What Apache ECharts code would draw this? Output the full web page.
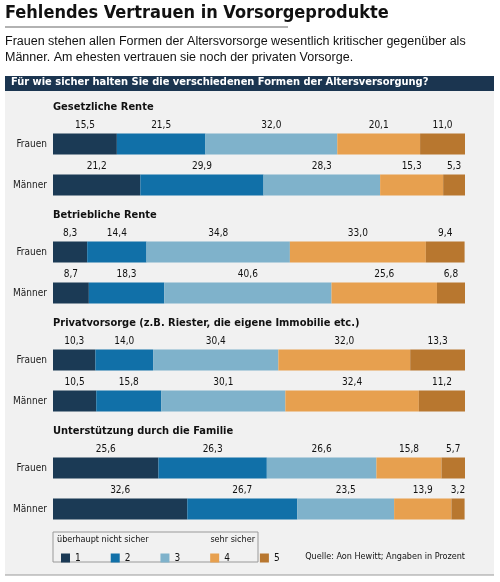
<!DOCTYPE html>
<html>
<head>
<meta charset="utf-8">
<script src="https://cdn.jsdelivr.net/npm/echarts@6/dist/echarts.min.js"></script>
<style>
  html, body { margin: 0; padding: 0; background: #fff; }
  #chart { width: 500px; height: 582px; }
</style>
</head>
<body>
<div id="chart"></div>
<script>
// data
const groups = ['Gesetzliche Rente', 'Betriebliche Rente', 'Privatvorsorge (z.B. Riester, die eigene Immobilie etc.)', 'Unterstützung durch die Familie'];
const rows = ['Frauen', 'Männer'];
const levels = ['1', '2', '3', '4', '5'];
const frauen = [
    [15.5, 21.5, 32.0, 20.1, 11.0],
    [8.3, 14.4, 34.8, 33.0, 9.4],
    [10.3, 14.0, 30.4, 32.0, 13.3],
    [25.6, 26.3, 26.6, 15.8, 5.7]
];
const maenner = [
    [21.2, 29.9, 28.3, 15.3, 5.3],
    [8.7, 18.3, 40.6, 25.6, 6.8],
    [10.5, 15.8, 30.1, 32.4, 11.2],
    [32.6, 26.7, 23.5, 13.9, 3.2]
];
const colors = ['#1b3a55', '#1170a8', '#7fb2cb', '#e7a04f', '#b8772f'];

const cond = '"DejaVu Sans Condensed", "Liberation Sans Narrow", sans-serif';
const fmt = v => v.toFixed(1).replace('.', ',');

const grids = [], xAxes = [], yAxes = [], series = [], graphics = [];
groups.forEach((g, gi) => {
    const top = 123.5 + gi * 108;
    grids.push({ left: 53, width: 412, top: top, height: 82 });
    xAxes.push({ gridIndex: gi, type: 'value', min: 0, max: 100, show: false });
    yAxes.push({
        gridIndex: gi, type: 'category', data: rows, inverse: true,
        axisLine: { show: false }, axisTick: { show: false },
        axisLabel: { color: '#222', fontFamily: cond, fontSize: 10, margin: 6 }
    });
    graphics.push({
        type: 'text', left: 53, top: top - 22,
        style: { text: g, fill: '#111', font: 'bold 11px ' + cond }
    });
    levels.forEach((lv, li) => {
        series.push({
            name: lv, type: 'bar', stack: 'g' + gi,
            xAxisIndex: gi, yAxisIndex: gi,
            barWidth: 21,
            itemStyle: { color: colors[li] },
            label: {
                show: true, position: 'top', distance: 3,
                formatter: p => fmt(p.value),
                color: '#111', fontFamily: cond, fontSize: 10
            },
            data: [frauen[gi][li], maenner[gi][li]]
        });
    });
});

const chart = echarts.init(document.getElementById('chart'));
chart.setOption({
    animation: false,
    color: colors,
    grid: grids, xAxis: xAxes, yAxis: yAxes, series: series,
    legend: {
        data: levels, left: 56, top: 548, icon: 'rect',
        itemWidth: 9, itemHeight: 9, itemGap: 30,
        textStyle: { fontFamily: cond, fontSize: 10, color: '#111' },
        selectedMode: false
    },
    graphic: [
        { type: 'rect', z: -10, shape: { x: 5, y: 90, width: 489, height: 485 }, style: { fill: '#f1f1f1' } },
        { type: 'line', z: -10, shape: { x1: 5, y1: 575, x2: 494, y2: 575 }, style: { stroke: '#999', lineWidth: 1 } },
        { type: 'rect', shape: { x: 5, y: 76, width: 489, height: 15 }, style: { fill: '#1b3550' } },
        { type: 'text', left: 11, top: 77, style: { text: 'Für wie sicher halten Sie die verschiedenen Formen der Altersversorgung?', fill: '#fff', font: 'bold 11px ' + cond } },
        { type: 'text', left: 5, top: 4, style: { text: 'Fehlendes Vertrauen in Vorsorgeprodukte', fill: '#111', font: 'bold 18px ' + cond } },
        { type: 'line', shape: { x1: 5, y1: 27, x2: 288, y2: 27 }, style: { stroke: '#999', lineWidth: 1.5 } },
        { type: 'text', left: 5, top: 34, style: { text: 'Frauen stehen allen Formen der Altersvorsorge wesentlich kritischer gegenüber als\nMänner. Am ehesten vertrauen sie noch der privaten Vorsorge.', fill: '#111', font: '12.5px "Liberation Sans", Arial, sans-serif', lineHeight: 16 } },
        { type: 'rect', shape: { x: 53, y: 532, width: 205, height: 30 }, style: { fill: 'none', stroke: '#999', lineWidth: 1 } },
        { type: 'text', left: 57, top: 535, style: { text: 'überhaupt nicht sicher', fill: '#111', font: '9px ' + cond } },
        { type: 'text', right: 245, top: 535, style: { text: 'sehr sicher', fill: '#111', font: '9px ' + cond } },
        { type: 'text', right: 35, top: 552, style: { text: 'Quelle: Aon Hewitt; Angaben in Prozent', fill: '#111', font: '9px ' + cond } }
    ].concat(graphics)
});
</script>
</body>
</html>
